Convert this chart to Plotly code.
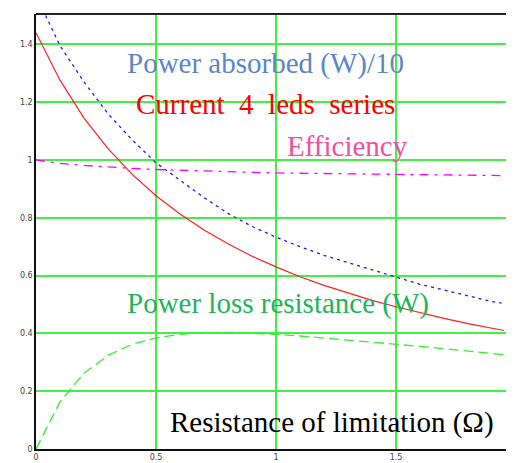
import plotly.graph_objects as go

# Resistance of limitation (ohm)
resistance = [0.0, 0.1, 0.2, 0.3, 0.4, 0.5, 0.6, 0.7, 0.8, 0.9, 1.0,
              1.1, 1.2, 1.3, 1.4, 1.5, 1.6, 1.7, 1.8, 1.9, 1.95]

current = [1.44, 1.276, 1.145, 1.039, 0.951, 0.876, 0.813, 0.758, 0.710, 0.667, 0.630,
           0.596, 0.566, 0.539, 0.514, 0.492, 0.471, 0.452, 0.434, 0.418, 0.410]

power_loss = [0.0, 0.163, 0.262, 0.324, 0.362, 0.384, 0.397, 0.402, 0.403, 0.400, 0.397,
              0.391, 0.384, 0.378, 0.370, 0.362, 0.355, 0.347, 0.339, 0.331, 0.326]

efficiency = [1.0, 0.988, 0.981, 0.975, 0.971, 0.967, 0.964, 0.961, 0.959, 0.957, 0.955,
              0.954, 0.952, 0.951, 0.950, 0.949, 0.948, 0.947, 0.947, 0.946, 0.946]

resistance_p = [0.04, 0.1, 0.2, 0.3, 0.4, 0.5, 0.6, 0.7, 0.8, 0.9, 1.0,
                1.1, 1.2, 1.3, 1.4, 1.5, 1.6, 1.7, 1.8, 1.9, 1.94]
power_abs_10 = [1.50, 1.395, 1.27, 1.16, 1.07, 0.99, 0.93, 0.87, 0.815, 0.77, 0.733,
                0.70, 0.67, 0.645, 0.62, 0.595, 0.57, 0.55, 0.53, 0.51, 0.505]

x_ticks = [0, 0.5, 1, 1.5]
x_tick_labels = ["0", "0.5", "1", "1.5"]
y_ticks = [0, 0.2, 0.4, 0.6, 0.8, 1, 1.2, 1.4]
y_tick_labels = ["0", "0.2", "0.4", "0.6", "0.8", "1", "1.2", "1.4"]

fig = go.Figure()
fig.add_trace(go.Scatter(x=resistance_p, y=power_abs_10, mode="lines",
                         line=dict(color="#1a1aff", width=1.3, dash="3px,4px")))
fig.add_trace(go.Scatter(x=resistance, y=current, mode="lines",
                         line=dict(color="#ff2020", width=1.2)))
fig.add_trace(go.Scatter(x=resistance, y=efficiency, mode="lines",
                         line=dict(color="#ff00ff", width=1.3, dash="9px,6px,3px,6px")))
fig.add_trace(go.Scatter(x=resistance, y=power_loss, mode="lines",
                         line=dict(color="#33ee33", width=1.3, dash="10px,5px")))

serif = "Liberation Serif, Times New Roman, serif"
annots = [
    ("Power absorbed (W)/10", 0.955, 1.335, "#5b87c5"),
    ("Current  4  leds  series", 0.955, 1.192, "#ff0000"),
    ("Efficiency", 1.3, 1.05, "#f0509e"),
    ("Power loss resistance (W)", 1.01, 0.505, "#1eb45a"),
    ("Resistance of limitation (Ω)", 1.232, 0.093, "#000000"),
]
for text, x, y, col in annots:
    fig.add_annotation(x=x, y=y, text=text, showarrow=False, xref="x", yref="y",
                       font=dict(family=serif, size=29, color=col))

fig.add_shape(type="line", xref="paper", yref="paper", x0=0, x1=1, y0=1, y1=1,
              line=dict(color="#222222", width=2))

# the page body adds an 8px offset, so the figure is 8px smaller and margins compensate
fig.update_layout(
    width=506, height=455,
    margin=dict(l=28, r=0, t=6, b=14, pad=0),
    paper_bgcolor="white", plot_bgcolor="white",
    showlegend=False,
    xaxis=dict(range=[0, 1.9917], tickvals=x_ticks, ticktext=x_tick_labels,
               showgrid=True, gridcolor="#44f044", gridwidth=1.5,
               zeroline=False, showline=True, linecolor="#111111", linewidth=1.5,
               tickfont=dict(family="DejaVu Sans", size=8, color="#444444"),
               ticks="", ticklabelstandoff=0, automargin=False),
    yaxis=dict(range=[0, 1.505], tickvals=y_ticks, ticktext=y_tick_labels,
               showgrid=True, gridcolor="#44f044", gridwidth=1.5,
               zeroline=False, showline=True, linecolor="#111111", linewidth=1.5,
               tickfont=dict(family="DejaVu Sans", size=8, color="#444444"),
               ticks="", automargin=False),
)

fig.write_html("out.html")
